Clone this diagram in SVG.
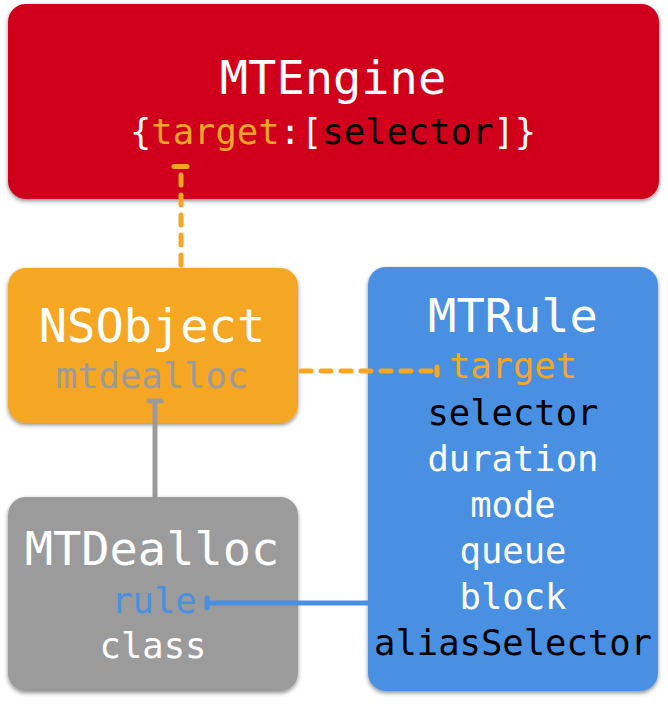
<svg xmlns="http://www.w3.org/2000/svg" width="668" height="704" viewBox="0 0 668 704">
  <defs>
    <filter id="sh" x="-10%" y="-10%" width="120%" height="125%">
      <feDropShadow dx="0" dy="2" stdDeviation="2" flood-color="#000" flood-opacity="0.45"/>
    </filter>
  </defs>
  <style>
    text { font-family: "DejaVu Sans Mono", "Liberation Mono", monospace; text-anchor: middle; }
    .title { font-size: 47px; fill: #fff; }
    .attr { font-size: 35.5px; fill: #fff; }
    .blk { fill: #000; }
    .org { fill: #F5A623; }
    .gry { fill: #9B9B9B; }
    .blu { fill: #4A90E2; }
    .box { filter: url(#sh); }
    .conn { fill: none; stroke-width: 5; stroke-linecap: round; }
    .dash { stroke-dasharray: 10 10; }
  </style>
  <rect width="668" height="704" fill="#fff"/>

  <g id="MTEngine">
    <rect class="box" x="8" y="4" width="651" height="195" rx="18" fill="#D0021B"/>
    <text class="title" x="333" y="94">MTEngine</text>
    <text class="attr" x="333" y="144">{<tspan class="org">target</tspan>:[<tspan class="blk">selector</tspan>]}</text>
  </g>

  <g id="NSObject">
    <rect class="box" x="8" y="268" width="290" height="155" rx="18" fill="#F5A623"/>
    <text class="title" x="152" y="342">NSObject</text>
    <text class="attr gry" x="152" y="388">mtdealloc</text>
  </g>

  <g id="MTRule">
    <rect class="box" x="368" y="267" width="290" height="424" rx="18" fill="#4A90E2"/>
    <text class="title" x="513" y="332">MTRule</text>
    <text class="attr org" x="513" y="378">target</text>
    <text class="attr blk" x="513" y="425">selector</text>
    <text class="attr" x="513" y="471">duration</text>
    <text class="attr" x="513" y="517">mode</text>
    <text class="attr" x="513" y="563">queue</text>
    <text class="attr" x="513" y="609">block</text>
    <text class="attr blk" x="513" y="655">aliasSelector</text>
  </g>

  <g id="MTDealloc">
    <rect class="box" x="8" y="497" width="290" height="194" rx="18" fill="#9B9B9B"/>
    <text class="title" x="152" y="565">MTDealloc</text>
    <text class="attr blu" x="154" y="613">rule</text>
    <text class="attr" x="153" y="658">class</text>
  </g>

  <g id="connectors">
    <!-- NSObject to MTEngine target -->
    <path class="conn dash" stroke="#F5A623" d="M181 175 V268"/>
    <path class="conn" stroke="#F5A623" d="M174 166.5 H187"/>
    <!-- NSObject to MTRule target -->
    <path class="conn dash" stroke="#F5A623" d="M301 371 H431"/>
    <path class="conn" stroke="#F5A623" d="M437 367 V375"/>
    <!-- MTDealloc to NSObject mtdealloc -->
    <path class="conn" stroke="#9B9B9B" stroke-linecap="butt" d="M155 402 V497"/>
    <path class="conn" stroke="#9B9B9B" d="M149 401 H161"/>
    <!-- MTRule to MTDealloc rule -->
    <path class="conn" stroke="#4A90E2" stroke-linecap="butt" d="M207 603 H369"/>
    <path class="conn" stroke="#4A90E2" d="M207 598 V608"/>
  </g>
</svg>
